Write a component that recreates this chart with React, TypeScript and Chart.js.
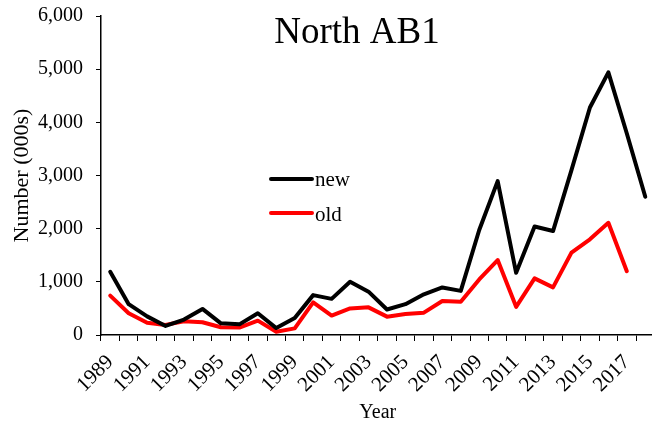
import React, { useEffect, useRef } from "react";
import { Chart, registerables } from "chart.js";

Chart.register(...registerables);

const years = [
  "1989", "1990", "1991", "1992", "1993", "1994", "1995", "1996", "1997", "1998",
  "1999", "2000", "2001", "2002", "2003", "2004", "2005", "2006", "2007", "2008",
  "2009", "2010", "2011", "2012", "2013", "2014", "2015", "2016", "2017", "2018",
];

const newValues = [
  1190, 580, 350, 170, 290, 490, 220, 200, 410, 130,
  320, 750, 680, 1000, 815, 480, 580, 765, 895, 830,
  1975, 2895, 1170, 2040, 1955, 3100, 4280, 4940, 3790, 2600,
];

const oldValues = [
  740, 410, 230, 190, 260, 240, 145, 140, 270, 60,
  125, 615, 365, 500, 520, 345, 395, 420, 640, 625,
  1045, 1410, 530, 1065, 895, 1550, 1800, 2110, 1200, null,
];

const titleText = "North AB1";
const seriesNames = ["new", "old"];
const seriesColors = ["#000000", "#ff0000"];
const xTitle = "Year";
const yTitle = "Number (000s)";

const FONT = "'Liberation Serif', 'Times New Roman', serif";

export default function App() {
  const ref = useRef<HTMLCanvasElement | null>(null);

  useEffect(() => {
    if (!ref.current) return;
    const overlay = {
      id: "overlay",
      afterDraw(chart: any) {
        const ctx = chart.ctx;
        ctx.save();
        ctx.fillStyle = "#000";
        ctx.font = `37px ${FONT}`;
        ctx.textAlign = "center";
        ctx.textBaseline = "alphabetic";
        ctx.fillText(titleText, 357, 43);
        // legend
        const rows = [179, 213];
        const base = [186, 221];
        seriesNames.forEach((name, i) => {
          const y = rows[i];
          ctx.strokeStyle = seriesColors[i];
          ctx.lineWidth = 4;
          ctx.lineCap = "round";
          ctx.beginPath();
          ctx.moveTo(271, y);
          ctx.lineTo(312, y);
          ctx.stroke();
          ctx.fillStyle = "#000";
          ctx.font = `21px ${FONT}`;
          ctx.textAlign = "left";
          ctx.textBaseline = "alphabetic";
          ctx.fillText(name, 315, base[i]);
        });
        ctx.restore();
      },
    };

    const chart = new Chart(ref.current, {
      type: "line",
      data: {
        labels: years,
        datasets: [
          {
            label: seriesNames[0],
            data: newValues,
            borderColor: seriesColors[0],
            backgroundColor: seriesColors[0],
            borderWidth: 4,
            pointRadius: 0,
            tension: 0,
            borderJoinStyle: "round",
            borderCapStyle: "round",
          },
          {
            label: seriesNames[1],
            data: oldValues,
            borderColor: seriesColors[1],
            backgroundColor: seriesColors[1],
            borderWidth: 4,
            pointRadius: 0,
            tension: 0,
            borderJoinStyle: "round",
            borderCapStyle: "round",
          },
        ],
      },
      options: {
        animation: false,
        responsive: false,
        maintainAspectRatio: false,
        layout: { padding: { left: 0, right: 5.5, top: 16, bottom: 0 } },
        plugins: {
          legend: { display: false },
          title: { display: false },
          tooltip: { enabled: false },
        },
        scales: {
          x: {
            type: "category",
            offset: true,
            grid: {
              offset: true,
              display: true,
              drawOnChartArea: false,
              drawTicks: true,
              tickLength: 6,
              color: "#000",
              lineWidth: 1,
            },
            border: { display: true, color: "#000", width: 1.5 },
            ticks: {
              autoSkip: false,
              maxRotation: 45,
              minRotation: 45,
              color: "#000",
              font: { family: FONT, size: 21 },
              padding: 9,
              callback: (_v: any, i: number) => (i % 2 === 0 ? years[i] : ""),
            },
            title: {
              display: true,
              text: xTitle,
              color: "#000",
              font: { family: FONT, size: 20 },
              padding: { top: 0, bottom: 0 },
            },
            afterFit: (s: any) => {
              s.height = 90;
              s.paddingLeft = 0;
              s.paddingRight = 0;
            },
          },
          y: {
            min: 0,
            max: 6000,
            ticks: {
              stepSize: 1000,
              color: "#000",
              font: { family: FONT, size: 20 },
              padding: 13,
              callback: (v: any) => Number(v).toLocaleString("en-US"),
            },
            grid: {
              display: true,
              drawOnChartArea: false,
              drawTicks: true,
              tickLength: 5,
              color: "#000",
            },
            border: { display: true, color: "#000", width: 1.5 },
            title: {
              display: true,
              text: yTitle,
              color: "#000",
              font: { family: FONT, size: 22 },
              padding: { top: 9, bottom: 0 },
            },
            afterFit: (s: any) => {
              s.width = 101;
              s.paddingTop = 0;
              s.paddingBottom = 0;
            },
          },
        },
      },
      plugins: [overlay],
    });
    return () => chart.destroy();
  }, []);

  return (
    <div style={{ position: "absolute", left: 0, top: 0, width: 652, height: 425, overflow: "hidden", background: "#fff" }}>
      <canvas ref={ref} width={660} height={425} style={{ width: 660, height: 425, display: "block" }} />
    </div>
  );
}
